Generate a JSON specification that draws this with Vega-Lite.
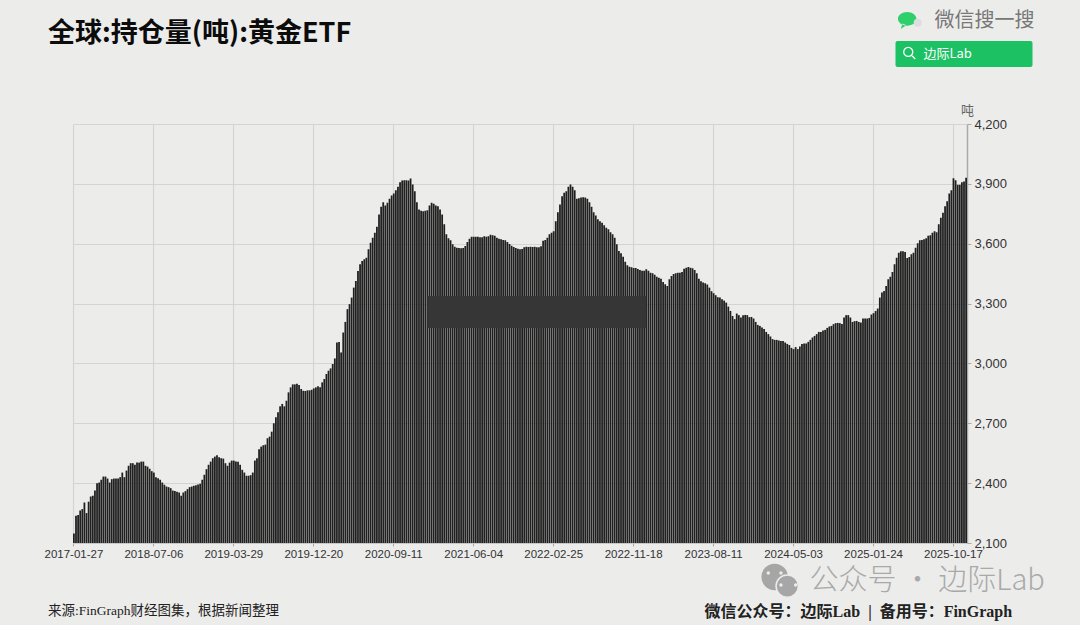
{"$schema":"https://vega.github.io/schema/vega-lite/v6.json","width":894,"height":419,"autosize":{"type":"none"},"padding":{"left":73,"top":124,"right":113,"bottom":82},"background":"#ececeb","title":{"text":"全球:持仓量(吨):黄金ETF","anchor":"start","frame":"group","dx":-25,"offset":0,"dy":37,"font":"Noto Sans CJK SC","fontWeight":"bold","fontSize":27,"color":"#0c0c0c"},"config":{"view":{"stroke":null},"text":{"baseline":"middle","align":"left"}},"encoding":{"x":{"field":"d","type":"nominal","sort":null,"title":null,"scale":{"paddingInner":0.15,"paddingOuter":0},"axis":{"values":["2017-01-27","2018-07-06","2019-03-29","2019-12-20","2020-09-11","2021-06-04","2022-02-25","2022-11-18","2023-08-11","2024-05-03","2025-01-24","2025-10-17"],"labelAngle":0,"labelFont":"Liberation Sans","labelFontSize":11.5,"labelColor":"#333333","labelOverlap":false,"labelPadding":2,"tickSize":3,"tickColor":"#aaaaaa","domainColor":"#c8c8c8","grid":true,"gridColor":"#d4d4d4","gridWidth":1.2}},"y":{"field":"v","type":"quantitative","stack":null,"title":"吨","scale":{"domain":[2100,4200],"zero":false,"nice":false},"axis":{"orient":"right","values":[2100,2400,2700,3000,3300,3600,3900,4200],"format":",.0f","labelFont":"Liberation Sans","labelFontSize":13,"labelColor":"#333333","labelPadding":3,"tickSize":4,"tickColor":"#aaaaaa","domainColor":"#aaaaaa","domainWidth":1.5,"grid":true,"gridColor":"#d4d4d4","gridWidth":1.2,"titleAngle":0,"titleX":0,"titleY":-14,"titleAlign":"center","titleBaseline":"middle","titleFont":"Noto Sans CJK SC","titleFontSize":13,"titleFontWeight":"normal","titleColor":"#666666"}}},"layer":[{"data":{"values":[
{"d":"2017-01-27","v":2147},{"d":"2017-02-10","v":2237},{"d":"2017-02-24","v":2240},{"d":"2017-03-10","v":2263},{"d":"2017-03-24","v":2270},{"d":"2017-04-07","v":2303},{"d":"2017-04-21","v":2250},{"d":"2017-05-05","v":2307},{"d":"2017-05-19","v":2333},{"d":"2017-06-02","v":2337},{"d":"2017-06-16","v":2363},{"d":"2017-06-30","v":2400},{"d":"2017-07-14","v":2403},{"d":"2017-07-28","v":2417},{"d":"2017-08-11","v":2433},{"d":"2017-08-25","v":2433},{"d":"2017-09-08","v":2423},{"d":"2017-09-22","v":2403},{"d":"2017-10-06","v":2420},{"d":"2017-10-20","v":2423},{"d":"2017-11-03","v":2423},{"d":"2017-11-17","v":2423},{"d":"2017-12-01","v":2430},{"d":"2017-12-15","v":2453},{"d":"2017-12-29","v":2430},
{"d":"2018-01-12","v":2463},{"d":"2018-01-26","v":2487},{"d":"2018-02-09","v":2500},{"d":"2018-02-23","v":2500},{"d":"2018-03-09","v":2492},{"d":"2018-03-23","v":2503},{"d":"2018-04-06","v":2503},{"d":"2018-04-20","v":2508},{"d":"2018-05-04","v":2508},{"d":"2018-05-18","v":2487},{"d":"2018-06-01","v":2483},{"d":"2018-06-15","v":2472},{"d":"2018-06-29","v":2460},{"d":"2018-07-06","v":2453},{"d":"2018-07-13","v":2430},{"d":"2018-07-20","v":2425},{"d":"2018-07-27","v":2417},{"d":"2018-08-03","v":2403},{"d":"2018-08-10","v":2392},{"d":"2018-08-17","v":2383},{"d":"2018-08-24","v":2380},{"d":"2018-08-31","v":2375},{"d":"2018-09-07","v":2363},{"d":"2018-09-14","v":2360},{"d":"2018-09-21","v":2357},{"d":"2018-09-28","v":2353},{"d":"2018-10-05","v":2337},{"d":"2018-10-12","v":2353},{"d":"2018-10-19","v":2360},{"d":"2018-10-26","v":2370},{"d":"2018-11-02","v":2380},{"d":"2018-11-09","v":2383},{"d":"2018-11-16","v":2387},{"d":"2018-11-23","v":2390},{"d":"2018-11-30","v":2393},{"d":"2018-12-07","v":2397},{"d":"2018-12-14","v":2417},{"d":"2018-12-21","v":2442},{"d":"2018-12-28","v":2470},
{"d":"2019-01-04","v":2492},{"d":"2019-01-11","v":2508},{"d":"2019-01-18","v":2525},{"d":"2019-01-25","v":2533},{"d":"2019-02-01","v":2540},{"d":"2019-02-08","v":2530},{"d":"2019-02-15","v":2525},{"d":"2019-02-22","v":2523},{"d":"2019-03-01","v":2500},{"d":"2019-03-08","v":2487},{"d":"2019-03-15","v":2503},{"d":"2019-03-22","v":2513},{"d":"2019-03-29","v":2513},{"d":"2019-04-05","v":2508},{"d":"2019-04-12","v":2507},{"d":"2019-04-19","v":2492},{"d":"2019-04-26","v":2467},{"d":"2019-05-03","v":2453},{"d":"2019-05-10","v":2437},{"d":"2019-05-17","v":2437},{"d":"2019-05-24","v":2440},{"d":"2019-05-31","v":2453},{"d":"2019-06-07","v":2513},{"d":"2019-06-14","v":2525},{"d":"2019-06-21","v":2570},{"d":"2019-06-28","v":2583},{"d":"2019-07-05","v":2590},{"d":"2019-07-12","v":2593},{"d":"2019-07-19","v":2625},{"d":"2019-07-26","v":2633},{"d":"2019-08-02","v":2658},{"d":"2019-08-09","v":2700},{"d":"2019-08-16","v":2730},{"d":"2019-08-23","v":2755},{"d":"2019-08-30","v":2785},{"d":"2019-09-06","v":2797},{"d":"2019-09-13","v":2785},{"d":"2019-09-20","v":2813},{"d":"2019-09-27","v":2855},{"d":"2019-10-04","v":2880},{"d":"2019-10-11","v":2895},{"d":"2019-10-18","v":2895},{"d":"2019-10-25","v":2898},{"d":"2019-11-01","v":2892},{"d":"2019-11-08","v":2872},{"d":"2019-11-15","v":2863},{"d":"2019-11-22","v":2862},{"d":"2019-11-29","v":2865},{"d":"2019-12-06","v":2865},{"d":"2019-12-13","v":2868},{"d":"2019-12-20","v":2875},{"d":"2019-12-27","v":2880},
{"d":"2020-01-03","v":2885},{"d":"2020-01-10","v":2880},{"d":"2020-01-17","v":2905},{"d":"2020-01-24","v":2922},{"d":"2020-01-31","v":2947},{"d":"2020-02-07","v":2963},{"d":"2020-02-14","v":2975},{"d":"2020-02-21","v":2997},{"d":"2020-02-28","v":3025},{"d":"2020-03-06","v":3105},{"d":"2020-03-13","v":3108},{"d":"2020-03-20","v":3055},{"d":"2020-03-27","v":3155},{"d":"2020-04-03","v":3208},{"d":"2020-04-10","v":3272},{"d":"2020-04-17","v":3297},{"d":"2020-04-24","v":3330},{"d":"2020-05-01","v":3380},{"d":"2020-05-08","v":3413},{"d":"2020-05-15","v":3463},{"d":"2020-05-22","v":3497},{"d":"2020-05-29","v":3513},{"d":"2020-06-05","v":3522},{"d":"2020-06-12","v":3530},{"d":"2020-06-19","v":3572},{"d":"2020-06-26","v":3605},{"d":"2020-07-03","v":3630},{"d":"2020-07-10","v":3655},{"d":"2020-07-17","v":3685},{"d":"2020-07-24","v":3747},{"d":"2020-07-31","v":3785},{"d":"2020-08-07","v":3808},{"d":"2020-08-14","v":3792},{"d":"2020-08-21","v":3805},{"d":"2020-08-28","v":3825},{"d":"2020-09-04","v":3842},{"d":"2020-09-11","v":3852},{"d":"2020-09-18","v":3868},{"d":"2020-09-25","v":3885},{"d":"2020-10-02","v":3908},{"d":"2020-10-09","v":3917},{"d":"2020-10-16","v":3918},{"d":"2020-10-23","v":3918},{"d":"2020-10-30","v":3917},{"d":"2020-11-06","v":3927},{"d":"2020-11-13","v":3897},{"d":"2020-11-20","v":3863},{"d":"2020-11-27","v":3808},{"d":"2020-12-04","v":3772},{"d":"2020-12-11","v":3765},{"d":"2020-12-18","v":3763},{"d":"2020-12-25","v":3765},
{"d":"2021-01-01","v":3768},{"d":"2021-01-08","v":3792},{"d":"2021-01-15","v":3805},{"d":"2021-01-22","v":3800},{"d":"2021-01-29","v":3792},{"d":"2021-02-05","v":3788},{"d":"2021-02-12","v":3772},{"d":"2021-02-19","v":3747},{"d":"2021-02-26","v":3697},{"d":"2021-03-05","v":3647},{"d":"2021-03-12","v":3627},{"d":"2021-03-19","v":3617},{"d":"2021-03-26","v":3597},{"d":"2021-04-02","v":3585},{"d":"2021-04-09","v":3580},{"d":"2021-04-16","v":3578},{"d":"2021-04-23","v":3577},{"d":"2021-04-30","v":3578},{"d":"2021-05-07","v":3588},{"d":"2021-05-14","v":3608},{"d":"2021-05-21","v":3625},{"d":"2021-05-28","v":3635},{"d":"2021-06-04","v":3635},{"d":"2021-06-11","v":3635},{"d":"2021-06-18","v":3635},{"d":"2021-06-25","v":3633},{"d":"2021-07-02","v":3632},{"d":"2021-07-09","v":3637},{"d":"2021-07-16","v":3635},{"d":"2021-07-23","v":3638},{"d":"2021-07-30","v":3645},{"d":"2021-08-06","v":3643},{"d":"2021-08-13","v":3640},{"d":"2021-08-20","v":3630},{"d":"2021-08-27","v":3625},{"d":"2021-09-03","v":3622},{"d":"2021-09-10","v":3618},{"d":"2021-09-17","v":3617},{"d":"2021-09-24","v":3608},{"d":"2021-10-01","v":3598},{"d":"2021-10-08","v":3590},{"d":"2021-10-15","v":3583},{"d":"2021-10-22","v":3578},{"d":"2021-10-29","v":3575},{"d":"2021-11-05","v":3572},{"d":"2021-11-12","v":3573},{"d":"2021-11-19","v":3582},{"d":"2021-11-26","v":3585},{"d":"2021-12-03","v":3583},{"d":"2021-12-10","v":3585},{"d":"2021-12-17","v":3583},{"d":"2021-12-24","v":3585},{"d":"2021-12-31","v":3582},
{"d":"2022-01-07","v":3582},{"d":"2022-01-14","v":3587},{"d":"2022-01-21","v":3615},{"d":"2022-01-28","v":3618},{"d":"2022-02-04","v":3630},{"d":"2022-02-11","v":3647},{"d":"2022-02-18","v":3655},{"d":"2022-02-25","v":3663},{"d":"2022-03-04","v":3713},{"d":"2022-03-11","v":3758},{"d":"2022-03-18","v":3797},{"d":"2022-03-25","v":3838},{"d":"2022-04-01","v":3855},{"d":"2022-04-08","v":3863},{"d":"2022-04-15","v":3885},{"d":"2022-04-22","v":3897},{"d":"2022-04-29","v":3885},{"d":"2022-05-06","v":3868},{"d":"2022-05-13","v":3825},{"d":"2022-05-20","v":3828},{"d":"2022-05-27","v":3832},{"d":"2022-06-03","v":3833},{"d":"2022-06-10","v":3832},{"d":"2022-06-17","v":3825},{"d":"2022-06-24","v":3808},{"d":"2022-07-01","v":3785},{"d":"2022-07-08","v":3758},{"d":"2022-07-15","v":3742},{"d":"2022-07-22","v":3722},{"d":"2022-07-29","v":3713},{"d":"2022-08-05","v":3705},{"d":"2022-08-12","v":3692},{"d":"2022-08-19","v":3680},{"d":"2022-08-26","v":3672},{"d":"2022-09-02","v":3658},{"d":"2022-09-09","v":3647},{"d":"2022-09-16","v":3630},{"d":"2022-09-23","v":3597},{"d":"2022-09-30","v":3563},{"d":"2022-10-07","v":3552},{"d":"2022-10-14","v":3535},{"d":"2022-10-21","v":3510},{"d":"2022-10-28","v":3492},{"d":"2022-11-04","v":3485},{"d":"2022-11-11","v":3482},{"d":"2022-11-18","v":3478},{"d":"2022-11-25","v":3478},{"d":"2022-12-02","v":3473},{"d":"2022-12-09","v":3468},{"d":"2022-12-16","v":3465},{"d":"2022-12-23","v":3465},{"d":"2022-12-30","v":3472},
{"d":"2023-01-06","v":3465},{"d":"2023-01-13","v":3455},{"d":"2023-01-20","v":3452},{"d":"2023-01-27","v":3445},{"d":"2023-02-03","v":3435},{"d":"2023-02-10","v":3430},{"d":"2023-02-17","v":3425},{"d":"2023-02-24","v":3408},{"d":"2023-03-03","v":3397},{"d":"2023-03-10","v":3388},{"d":"2023-03-17","v":3422},{"d":"2023-03-24","v":3438},{"d":"2023-03-31","v":3448},{"d":"2023-04-07","v":3452},{"d":"2023-04-14","v":3455},{"d":"2023-04-21","v":3455},{"d":"2023-04-28","v":3458},{"d":"2023-05-05","v":3475},{"d":"2023-05-12","v":3480},{"d":"2023-05-19","v":3483},{"d":"2023-05-26","v":3480},{"d":"2023-06-02","v":3477},{"d":"2023-06-09","v":3468},{"d":"2023-06-16","v":3452},{"d":"2023-06-23","v":3425},{"d":"2023-06-30","v":3412},{"d":"2023-07-07","v":3405},{"d":"2023-07-14","v":3402},{"d":"2023-07-21","v":3395},{"d":"2023-07-28","v":3380},{"d":"2023-08-04","v":3362},{"d":"2023-08-11","v":3352},{"d":"2023-08-18","v":3342},{"d":"2023-08-25","v":3332},{"d":"2023-09-01","v":3330},{"d":"2023-09-08","v":3322},{"d":"2023-09-15","v":3315},{"d":"2023-09-22","v":3305},{"d":"2023-09-29","v":3285},{"d":"2023-10-06","v":3263},{"d":"2023-10-13","v":3238},{"d":"2023-10-20","v":3222},{"d":"2023-10-27","v":3250},{"d":"2023-11-03","v":3242},{"d":"2023-11-10","v":3230},{"d":"2023-11-17","v":3242},{"d":"2023-11-24","v":3243},{"d":"2023-12-01","v":3242},{"d":"2023-12-08","v":3232},{"d":"2023-12-15","v":3233},{"d":"2023-12-22","v":3225},{"d":"2023-12-29","v":3208},
{"d":"2024-01-05","v":3193},{"d":"2024-01-12","v":3188},{"d":"2024-01-19","v":3180},{"d":"2024-01-26","v":3172},{"d":"2024-02-02","v":3158},{"d":"2024-02-09","v":3147},{"d":"2024-02-16","v":3135},{"d":"2024-02-23","v":3122},{"d":"2024-03-01","v":3118},{"d":"2024-03-08","v":3118},{"d":"2024-03-15","v":3115},{"d":"2024-03-22","v":3113},{"d":"2024-03-29","v":3112},{"d":"2024-04-05","v":3105},{"d":"2024-04-12","v":3098},{"d":"2024-04-19","v":3092},{"d":"2024-04-26","v":3078},{"d":"2024-05-03","v":3072},{"d":"2024-05-10","v":3082},{"d":"2024-05-17","v":3072},{"d":"2024-05-24","v":3085},{"d":"2024-05-31","v":3098},{"d":"2024-06-07","v":3100},{"d":"2024-06-14","v":3100},{"d":"2024-06-21","v":3108},{"d":"2024-06-28","v":3118},{"d":"2024-07-05","v":3130},{"d":"2024-07-12","v":3138},{"d":"2024-07-19","v":3147},{"d":"2024-07-26","v":3158},{"d":"2024-08-02","v":3158},{"d":"2024-08-09","v":3165},{"d":"2024-08-16","v":3168},{"d":"2024-08-23","v":3178},{"d":"2024-08-30","v":3185},{"d":"2024-09-06","v":3188},{"d":"2024-09-13","v":3197},{"d":"2024-09-20","v":3202},{"d":"2024-09-27","v":3203},{"d":"2024-10-04","v":3202},{"d":"2024-10-11","v":3197},{"d":"2024-10-18","v":3230},{"d":"2024-10-25","v":3242},{"d":"2024-11-01","v":3242},{"d":"2024-11-08","v":3230},{"d":"2024-11-15","v":3208},{"d":"2024-11-22","v":3212},{"d":"2024-11-29","v":3213},{"d":"2024-12-06","v":3208},{"d":"2024-12-13","v":3205},{"d":"2024-12-20","v":3225},{"d":"2024-12-27","v":3225},
{"d":"2025-01-03","v":3225},{"d":"2025-01-10","v":3228},{"d":"2025-01-17","v":3245},{"d":"2025-01-24","v":3252},{"d":"2025-01-31","v":3263},{"d":"2025-02-07","v":3275},{"d":"2025-02-14","v":3330},{"d":"2025-02-21","v":3355},{"d":"2025-02-28","v":3363},{"d":"2025-03-07","v":3388},{"d":"2025-03-14","v":3422},{"d":"2025-03-21","v":3435},{"d":"2025-03-28","v":3458},{"d":"2025-04-04","v":3497},{"d":"2025-04-11","v":3530},{"d":"2025-04-18","v":3555},{"d":"2025-04-25","v":3562},{"d":"2025-05-02","v":3562},{"d":"2025-05-09","v":3558},{"d":"2025-05-16","v":3528},{"d":"2025-05-23","v":3533},{"d":"2025-05-30","v":3547},{"d":"2025-06-06","v":3555},{"d":"2025-06-13","v":3580},{"d":"2025-06-20","v":3602},{"d":"2025-06-27","v":3617},{"d":"2025-07-04","v":3618},{"d":"2025-07-11","v":3622},{"d":"2025-07-18","v":3628},{"d":"2025-07-25","v":3640},{"d":"2025-08-01","v":3643},{"d":"2025-08-08","v":3655},{"d":"2025-08-15","v":3662},{"d":"2025-08-22","v":3658},{"d":"2025-08-29","v":3697},{"d":"2025-09-05","v":3730},{"d":"2025-09-12","v":3755},{"d":"2025-09-19","v":3788},{"d":"2025-09-26","v":3813},{"d":"2025-10-03","v":3852},{"d":"2025-10-10","v":3868},{"d":"2025-10-17","v":3928},{"d":"2025-10-24","v":3918},{"d":"2025-10-31","v":3895},{"d":"2025-11-07","v":3895},{"d":"2025-11-14","v":3908},{"d":"2025-11-21","v":3912},{"d":"2025-11-28","v":3930}
]},"mark":{"type":"bar","color":"#202020"}},
{"data":{"values":[{"d":"2021-12-31","v":3338,"v2":3178}]},"mark":{"type":"bar","width":219,"color":"#363636"},"encoding":{"y2":{"field":"v2"}}},
{"data":{"values":[{"d":"2025-11-21","v":4616,"v2":4486}]},"mark":{"type":"bar","width":137,"cornerRadius":2,"color":"#1bc163"},"encoding":{"y2":{"field":"v2"}}},
{"data":{"values":[{"d":"2025-05-23","v":4556}]},"mark":{"type":"point","shape":"M.5,-.15A.65,.65 0 1 1 -.8,-.15A.65,.65 0 1 1 .5,-.15ZM.32,.32L.85,.85","size":196,"filled":false,"stroke":"#ffffff","strokeWidth":1.3,"opacity":1}},
{"data":{"values":[{"d":"2025-05-16","v":4727}]},"mark":{"type":"point","shape":"M-1,0A1,.75 0 1 1 1,0A1,.75 0 1 1 -1,0ZM-.5,.5L-.7,1.1L-.1,.7Z","size":340,"filled":true,"color":"#2fcf6c","opacity":1}},
{"data":{"values":[{"d":"2025-06-20","v":4707}]},"mark":{"type":"point","shape":"circle","size":64,"filled":true,"color":"#dedede","opacity":1}},
{"data":{"values":[{"d":"2024-03-01","v":1930}]},"mark":{"type":"point","shape":"circle","size":700,"filled":true,"color":"#a6a6a6","opacity":1}},
{"data":{"values":[{"d":"2024-04-12","v":1884}]},"mark":{"type":"point","shape":"circle","size":500,"filled":true,"color":"#a6a6a6","stroke":"#ececeb","strokeWidth":1.5,"opacity":1}},
{"data":{"values":[{"d":"2024-02-09","v":1950},{"d":"2024-03-22","v":1950},{"d":"2024-03-22","v":1890},{"d":"2024-05-10","v":1890}]},"mark":{"type":"point","shape":"circle","size":12,"filled":true,"color":"#ececeb","opacity":1}},
{"data":{"values":[{"d":"2017-01-27","v":1759,"t":"来源:FinGraph财经图集\uff0c根据新闻整理"}]},"mark":{"type":"text","dx":-26,"font":"Liberation Serif, Noto Sans CJK SC","fontSize":13.5,"color":"#222222"},"encoding":{"text":{"field":"t"}}},
{"data":{"values":[{"d":"2024-05-03","v":1754,"t":"微信公众号\uff1a边际Lab\u00a0\u00a0|\u00a0\u00a0备用号\uff1aFinGraph"}]},"mark":{"type":"text","dx":-89,"font":"Liberation Serif, Noto Sans CJK SC","fontWeight":"bold","fontSize":16,"color":"#222222"},"encoding":{"text":{"field":"t"}}},
{"data":{"values":[{"d":"2024-05-03","v":1910,"t":"公众号 · 边际Lab"}]},"mark":{"type":"text","dx":16,"font":"Noto Sans CJK SC","fontWeight":300,"fontSize":29,"color":"#a9a9a9"},"encoding":{"text":{"field":"t"}}},
{"data":{"values":[{"d":"2025-10-17","v":4716,"t":"微信搜一搜"}]},"mark":{"type":"text","dx":-19,"font":"Noto Sans CJK SC","fontSize":20,"color":"#777777"},"encoding":{"text":{"field":"t"}}},
{"data":{"values":[{"d":"2025-10-17","v":4551,"t":"边际Lab"}]},"mark":{"type":"text","dx":-30,"font":"Noto Sans CJK SC","fontSize":13,"color":"#ffffff"},"encoding":{"text":{"field":"t"}}}
]}
